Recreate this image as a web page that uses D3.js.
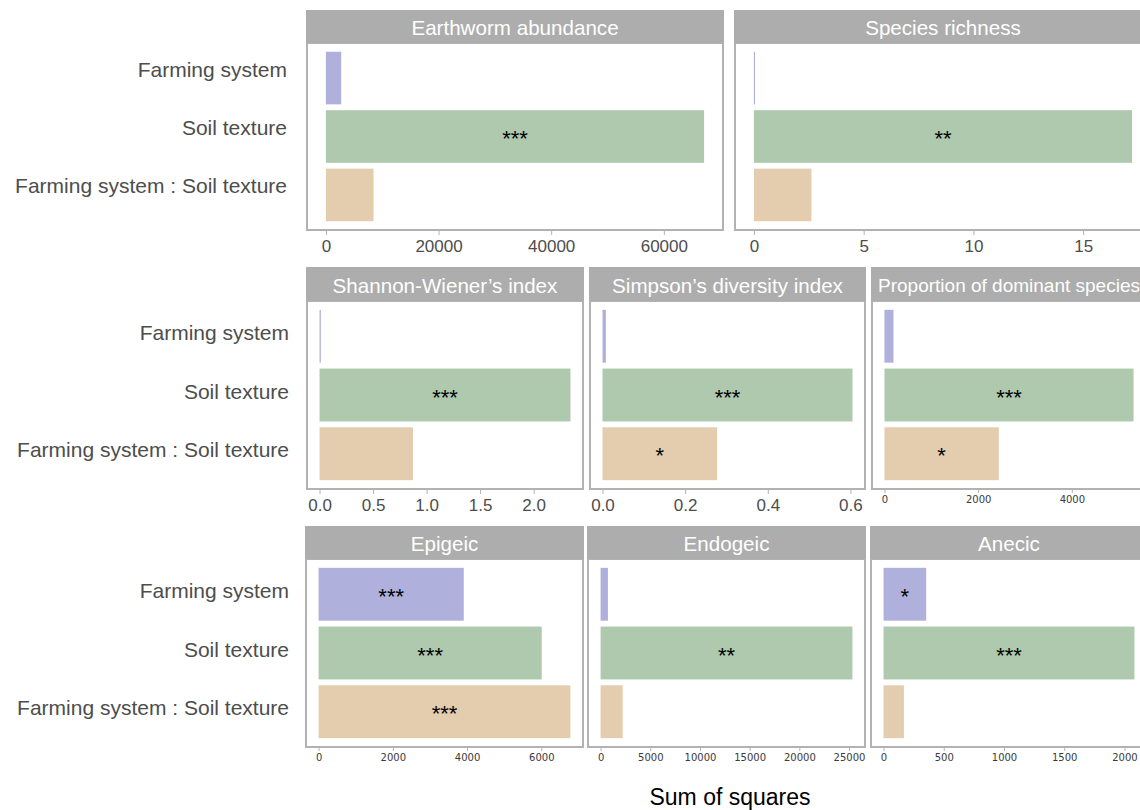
<!DOCTYPE html>
<html>
<head>
<meta charset="utf-8">
<script src="https://cdn.jsdelivr.net/npm/d3@7"></script>
<style>
  html, body { margin: 0; padding: 0; background: #fff; }
  svg { display: block; font-family: "Liberation Sans", Arial, sans-serif; }
</style>
</head>
<body>
<svg id="chart" width="1140" height="810"></svg>
<script>
// ANOVA terms (one bar per term in every facet)
const terms = ["Farming system", "Soil texture", "Farming system : Soil texture"];

// Response variables, one facet each
const responses = [
  "Earthworm abundance", "Species richness",
  "Shannon-Wiener\u2019s index", "Simpson\u2019s diversity index", "Proportion of dominant species",
  "Epigeic", "Endogeic", "Anecic"
];

// Sum of squares per term, in the order of `responses`
const ssFarming     = [2720, 0.05, 0.012, 0.0082, 192, 3911, 740, 354];
const ssSoil        = [67150, 17.23, 2.344, 0.605, 5317, 6011, 25340, 2083];
const ssInteraction = [8460, 2.62, 0.873, 0.2775, 2441, 6784, 2224, 169];

// Significance codes per term
const sigFarming     = ["", "", "", "", "", "***", "", "*"];
const sigSoil        = ["***", "**", "***", "***", "***", "***", "**", "***"];
const sigInteraction = ["", "", "", "*", "*", "***", "", ""];

// Axis tick values and their labels per facet
const tickValues = [
  [0, 20000, 40000, 60000],
  [0, 5, 10, 15],
  [0, 0.5, 1, 1.5, 2],
  [0, 0.2, 0.4, 0.6],
  [0, 2000, 4000],
  [0, 2000, 4000, 6000],
  [0, 5000, 10000, 15000, 20000, 25000],
  [0, 500, 1000, 1500, 2000]
];
const tickLabels = [
  ["0", "20000", "40000", "60000"],
  ["0", "5", "10", "15"],
  ["0.0", "0.5", "1.0", "1.5", "2.0"],
  ["0.0", "0.2", "0.4", "0.6"],
  ["0", "2000", "4000"],
  ["0", "2000", "4000", "6000"],
  ["0", "5000", "10000", "15000", "20000", "25000"],
  ["0", "500", "1000", "1500", "2000"]
];

const xTitle = "Sum of squares";

// ---- layout ----
const termColors = ["#b0b0dd", "#aec9ae", "#e3cdae"];
const rows = [
  { stripTop: 10,  top: 43,  bottom: 230, labelRight: 287, labelShift: -9, small: false },
  { stripTop: 267, top: 301, bottom: 489, labelRight: 289, labelShift: -4, small: false },
  { stripTop: 526, top: 559, bottom: 747, labelRight: 289, labelShift: -4, small: true }
];
const facetBoxes = [
  { row: 0, x0: 307, x1: 723 },
  { row: 0, x0: 735, x1: 1151 },
  { row: 1, x0: 307, x1: 583 },
  { row: 1, x0: 590, x1: 865 },
  { row: 1, x0: 872, x1: 1146, small: true, stripFont: 19 },
  { row: 2, x0: 306, x1: 583 },
  { row: 2, x0: 588, x1: 865 },
  { row: 2, x0: 871, x1: 1147 }
];

const svg = d3.select("#chart");
const frameColor = "#b2b2b2";
const stripFill = "#adadad";
const textGrey = "#4d4d4d";

// y-axis term labels for each row
rows.forEach(r => {
  const y = d3.scaleBand().domain(terms).range([r.top, r.bottom])
    .paddingInner(0.1).paddingOuter(0.15);
  svg.append("g").selectAll("text").data(terms).join("text")
    .attr("x", r.labelRight)
    .attr("y", d => y(d) + y.bandwidth() / 2 + r.labelShift)
    .attr("text-anchor", "end")
    .attr("dominant-baseline", "central")
    .attr("font-size", 21)
    .attr("fill", textGrey)
    .text(d => d);
});

responses.forEach((name, i) => {
  const box = facetBoxes[i];
  const r = rows[box.row];
  const vals = [ssFarming[i], ssSoil[i], ssInteraction[i]];
  const sigs = [sigFarming[i], sigSoil[i], sigInteraction[i]];
  const maxV = d3.max(vals);

  const x = d3.scaleLinear().domain([-0.05 * maxV, 1.05 * maxV]).range([box.x0, box.x1]);
  const y = d3.scaleBand().domain(terms).range([r.top, r.bottom])
    .paddingInner(0.1).paddingOuter(0.15);

  const g = svg.append("g");

  // panel background
  g.append("rect")
    .attr("x", box.x0).attr("y", r.top)
    .attr("width", box.x1 - box.x0).attr("height", r.bottom - r.top)
    .attr("fill", "#fff");

  // bars
  g.selectAll("rect.bar").data(terms).join("rect")
    .attr("class", "bar")
    .attr("x", x(0))
    .attr("y", d => y(d))
    .attr("width", (d, k) => Math.max(0, x(vals[k]) - x(0)))
    .attr("height", y.bandwidth())
    .attr("fill", (d, k) => termColors[k]);

  // significance stars centred on each bar
  g.selectAll("text.sig").data(terms).join("text")
    .attr("class", "sig")
    .attr("x", (d, k) => x(vals[k] / 2))
    .attr("y", d => y(d) + y.bandwidth() / 2 + 2)
    .attr("text-anchor", "middle")
    .attr("dominant-baseline", "central")
    .attr("font-size", 22)
    .attr("fill", "#000")
    .text((d, k) => sigs[k]);

  // panel frame
  g.append("rect")
    .attr("x", box.x0).attr("y", r.top)
    .attr("width", box.x1 - box.x0).attr("height", r.bottom - r.top)
    .attr("fill", "none")
    .attr("stroke", frameColor).attr("stroke-width", 2);

  // strip
  g.append("rect")
    .attr("x", box.x0 - 1).attr("y", r.stripTop)
    .attr("width", box.x1 - box.x0 + 2).attr("height", r.top - r.stripTop)
    .attr("fill", stripFill);
  g.append("text")
    .attr("x", (box.x0 + box.x1) / 2)
    .attr("y", (r.stripTop + r.top) / 2 + 1)
    .attr("text-anchor", "middle")
    .attr("dominant-baseline", "central")
    .attr("font-size", box.stripFont || 20.6)
    .attr("fill", "#fff")
    .text(name);

  // x axis
  const small = r.small || box.small;
  const labels = tickLabels[i];
  const axis = d3.axisBottom(x)
    .tickValues(tickValues[i])
    .tickSize(small ? 3 : 4)
    .tickPadding(small ? 3 : 5)
    .tickFormat((d, k) => labels[k]);
  const ax = svg.append("g")
    .attr("transform", `translate(0,${r.bottom + 1})`)
    .call(axis);
  ax.select(".domain").remove();
  ax.selectAll(".tick line").attr("stroke", frameColor).attr("stroke-width", 1);
  ax.selectAll(".tick text")
    .attr("fill", small ? "#3a3a3a" : textGrey)
    .attr("font-family", small ? "'DejaVu Sans', sans-serif" : "'Liberation Sans', Arial, sans-serif")
    .attr("font-size", small ? 10 : 17);
});

// shared x-axis title
svg.append("text")
  .attr("x", 730).attr("y", 805)
  .attr("text-anchor", "middle")
  .attr("font-size", 23)
  .attr("fill", "#000")
  .text(xTitle);
</script>
</body>
</html>
